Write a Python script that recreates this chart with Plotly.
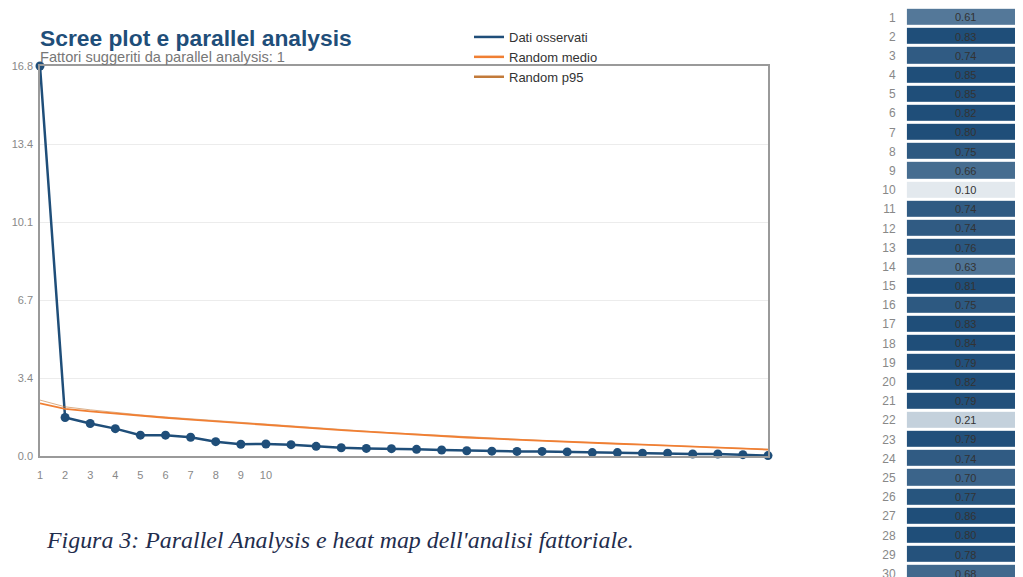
import plotly.graph_objects as go

W, H = 1023, 577
OFF = 8  # page body margin of the browser (px)

# ---- Scree plot data ----
factors = list(range(1, 31))
observed = [16.8, 1.67, 1.41, 1.19, 0.91, 0.91, 0.82, 0.63, 0.52, 0.53,
            0.50, 0.43, 0.37, 0.34, 0.33, 0.30, 0.27, 0.24, 0.22, 0.21,
            0.21, 0.19, 0.16, 0.16, 0.13, 0.13, 0.10, 0.10, 0.07, 0.03]
random_mean = [2.28, 2.04, 1.93, 1.83, 1.74, 1.66, 1.58, 1.50, 1.42, 1.34,
               1.27, 1.20, 1.13, 1.06, 0.99, 0.93, 0.87, 0.81, 0.76, 0.71,
               0.66, 0.62, 0.58, 0.54, 0.50, 0.46, 0.42, 0.38, 0.34, 0.29]
random_p95 = [2.42, 2.13, 2.00, 1.88, 1.78, 1.69, 1.61, 1.53, 1.45, 1.37,
              1.29, 1.22, 1.15, 1.08, 1.01, 0.95, 0.89, 0.83, 0.78, 0.73,
              0.68, 0.63, 0.59, 0.55, 0.51, 0.47, 0.43, 0.39, 0.35, 0.30]
y_tickvals = [0, 3.36, 6.72, 10.08, 13.44, 16.8]
y_ticktext = ["0.0", "3.4", "6.7", "10.1", "13.4", "16.8"]
x_tickvals = list(range(1, 11))

# ---- Heat map data ----
items = list(range(1, 31))
loadings = [0.61, 0.83, 0.74, 0.85, 0.85, 0.82, 0.80, 0.75, 0.66, 0.10,
            0.74, 0.74, 0.76, 0.63, 0.81, 0.75, 0.83, 0.84, 0.79, 0.82,
            0.79, 0.21, 0.79, 0.74, 0.70, 0.77, 0.86, 0.80, 0.78, 0.68]

BLUE = "#1f4e79"
ORANGE = "#f07f33"
BROWN = "#c27a3a"
FONT = "Liberation Sans, Arial, sans-serif"


def px(x):
    return (x - OFF) / W


def py(y):
    return 1 - (y - OFF) / H


fig = go.Figure()

fig.add_trace(go.Scatter(
    x=factors, y=observed, mode="lines+markers", name="Dati osservati",
    line=dict(color=BLUE, width=2.5), marker=dict(color=BLUE, size=9),
    cliponaxis=False, showlegend=False, xaxis="x", yaxis="y"))
fig.add_trace(go.Scatter(
    x=factors, y=random_p95, mode="lines", name="Random p95",
    line=dict(color=BROWN, width=1), opacity=0.6, showlegend=False,
    xaxis="x", yaxis="y"))
fig.add_trace(go.Scatter(
    x=factors, y=random_mean, mode="lines", name="Random medio",
    line=dict(color=ORANGE, width=1.8), showlegend=False,
    xaxis="x", yaxis="y"))

# legend entries (line samples only)
for nm, col in [("Dati osservati", BLUE), ("Random medio", ORANGE), ("Random p95", BROWN)]:
    fig.add_trace(go.Scatter(x=[None], y=[None], mode="lines", name=nm,
                             line=dict(color=col, width=2.5),
                             xaxis="x", yaxis="y"))

fig.add_trace(go.Heatmap(
    z=[[v] for v in loadings], x=[0], y=items,
    text=[[f"{v:.2f}"] for v in loadings], texttemplate="%{text}",
    textfont=dict(family=FONT, size=11, color="#333333"),
    colorscale=[[0, "#ffffff"], [1, BLUE]], zmin=0, zmax=0.8,
    showscale=False, ygap=3, xaxis="x2", yaxis="y2", hoverinfo="skip"))

fig.update_layout(
    width=W, height=H, margin=dict(l=0, r=0, t=0, b=0, autoexpand=False),
    paper_bgcolor="white", plot_bgcolor="white",
    font=dict(family=FONT, color="#777777"),
    xaxis=dict(domain=[px(40), px(768)], range=[1, 30], tickvals=x_tickvals,
               anchor="y", automargin=False,
               showgrid=False, zeroline=False, showline=True, mirror=True,
               linecolor="#9a9a9a", linewidth=1.5, ticks="",
               tickfont=dict(size=11, color="#888888"), ticklabelstandoff=8),
    yaxis=dict(domain=[py(456.3), py(66)], range=[0, 16.8],
               anchor="x", automargin=False,
               tickvals=y_tickvals, ticktext=y_ticktext,
               showgrid=True, gridcolor="#ececec", gridwidth=1,
               zeroline=False, showline=True, mirror=True,
               linecolor="#9a9a9a", linewidth=1.5, ticks="",
               tickfont=dict(size=11, color="#888888"), ticklabelstandoff=3),
    xaxis2=dict(domain=[px(906.7), 1], anchor="y2", automargin=False,
                showticklabels=False, showgrid=False,
                zeroline=False, showline=False, range=[-0.5, 0.55]),
    yaxis2=dict(domain=[0, 1], range=[30.59, 0.5125], anchor="x2",
                automargin=False,
                tickvals=items, showgrid=False, zeroline=False, showline=False,
                ticks="", tickfont=dict(size=12, color="#888888"),
                ticklabelstandoff=10),
    legend=dict(x=px(469), y=py(22), xanchor="left", yanchor="top",
                bgcolor="rgba(0,0,0,0)", font=dict(size=13, color="#333333"),
                tracegroupgap=0),
    showlegend=True,
)

fig.add_annotation(text="<b>Scree plot e parallel analysis</b>", xref="paper",
                   yref="paper", x=px(38), y=py(38), xanchor="left",
                   yanchor="middle", showarrow=False,
                   font=dict(family=FONT, size=22.8, color=BLUE))
fig.add_annotation(text="Fattori suggeriti da parallel analysis: 1",
                   xref="paper", yref="paper", x=px(38), y=py(57),
                   xanchor="left", yanchor="middle", showarrow=False,
                   font=dict(family=FONT, size=14.6, color="#777777"))
fig.add_annotation(text="<i>Figura 3: Parallel Analysis e heat map dell'analisi fattoriale.</i>",
                   xref="paper", yref="paper", x=px(44), y=py(540),
                   xanchor="left", yanchor="middle", showarrow=False,
                   font=dict(family="Liberation Serif, Times New Roman, serif",
                             size=23.9, color="#1f2d4d"))

fig.write_html("out.html")
